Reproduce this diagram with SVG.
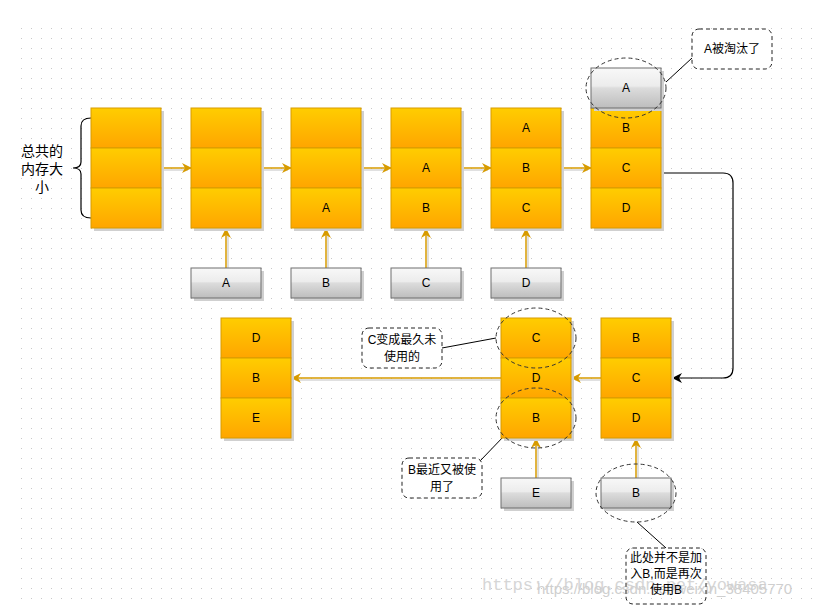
<svg xmlns="http://www.w3.org/2000/svg" width="827" height="608" viewBox="0 0 827 608">
<defs>
<pattern id="dots" x="21" y="28" width="10" height="10" patternUnits="userSpaceOnUse">
<rect x="0" y="0" width="1" height="1" fill="#c8c8c8"/>
</pattern>
<linearGradient id="gold" x1="0" y1="0" x2="0" y2="1">
<stop offset="0" stop-color="#ffcd00"/>
<stop offset="1" stop-color="#ffa500"/>
</linearGradient>
<linearGradient id="gray" x1="0" y1="0" x2="0" y2="1">
<stop offset="0" stop-color="#f8f8f8"/>
<stop offset="0.45" stop-color="#ececec"/>
<stop offset="0.5" stop-color="#dcdcdc"/>
<stop offset="1" stop-color="#bdbdbd"/>
</linearGradient>
<marker id="ag" viewBox="0 0 10 10" refX="9" refY="5" markerWidth="10" markerHeight="10" markerUnits="userSpaceOnUse" orient="auto">
<path d="M0,0 L10,5 L0,10 L3,5 Z" fill="#d79b00"/>
</marker>
<marker id="ab" viewBox="0 0 10 10" refX="9" refY="5" markerWidth="10" markerHeight="10" markerUnits="userSpaceOnUse" orient="auto">
<path d="M0,0 L10,5 L0,10 L3,5 Z" fill="#000"/>
</marker>
</defs>
<style>
text{font-family:"Liberation Sans","Noto Sans CJK SC",sans-serif;font-size:12px;fill:#000;text-anchor:middle;dominant-baseline:central}
.cell{fill:url(#gold);stroke:#d79b00;stroke-width:1}
.shadow{fill:#d0d0d0}
.gbox{fill:url(#gray);stroke:#6e6e6e;stroke-width:1}
.ga{stroke:#d79b00;stroke-width:1.5;fill:none;marker-end:url(#ag)}
.gs{stroke:#d6d6d6;stroke-width:1.5;fill:none}
.ell{fill:none;stroke:#333;stroke-width:1;stroke-dasharray:4 3}
.call{fill:#fff;stroke:#222;stroke-width:1;stroke-dasharray:4 3}
.lead{stroke:#000;stroke-width:1;fill:none}
.wm{font-family:"Liberation Mono",monospace;font-size:17px;fill:#d6d6d6;text-anchor:start;dominant-baseline:auto}
.wm2{font-family:"Liberation Sans",sans-serif;font-size:15px;fill:#cfcfcf;text-anchor:start;dominant-baseline:auto}
</style>
<rect x="0" y="0" width="827" height="608" fill="#fff"/>
<rect x="20" y="27" width="800" height="574" fill="url(#dots)"/>

<g id="label-total">
<path d="M91,118 Q81,118 81,126 L81,162 Q81,168 73,168 Q81,168 81,174 L81,210 Q81,218 91,218" fill="none" stroke="#000" stroke-width="1.2"/>
<text x="42" y="151" style="font-size:14px">总共的</text>
<text x="42" y="169" style="font-size:14px">内存大</text>
<text x="42" y="187" style="font-size:14px">小</text>
</g>

<g id="connectors">
<line class="gs" x1="162" y1="170" x2="188" y2="170"/>
<line class="ga" x1="162" y1="168" x2="191" y2="168"/>
<line class="gs" x1="262" y1="170" x2="288" y2="170"/>
<line class="ga" x1="262" y1="168" x2="291" y2="168"/>
<line class="gs" x1="362" y1="170" x2="388" y2="170"/>
<line class="ga" x1="362" y1="168" x2="391" y2="168"/>
<line class="gs" x1="462" y1="170" x2="488" y2="170"/>
<line class="ga" x1="462" y1="168" x2="491" y2="168"/>
<line class="gs" x1="562" y1="170" x2="588" y2="170"/>
<line class="ga" x1="562" y1="168" x2="591" y2="168"/>

<line class="gs" x1="228" y1="268" x2="228" y2="234"/>
<line class="ga" x1="226" y1="268" x2="226" y2="229"/>
<line class="gs" x1="328" y1="268" x2="328" y2="234"/>
<line class="ga" x1="326" y1="268" x2="326" y2="229"/>
<line class="gs" x1="428" y1="268" x2="428" y2="234"/>
<line class="ga" x1="426" y1="268" x2="426" y2="229"/>
<line class="gs" x1="528" y1="268" x2="528" y2="234"/>
<line class="ga" x1="526" y1="268" x2="526" y2="229"/>

<path d="M661,173 H723 Q733,173 733,183 V368 Q733,378 723,378 H673" fill="none" stroke="#000" stroke-width="1.2" marker-end="url(#ab)"/>

<line class="gs" x1="600" y1="380" x2="575" y2="380"/>
<line class="ga" x1="601" y1="378" x2="572" y2="378"/>
<line class="gs" x1="500" y1="380" x2="295" y2="380"/>
<line class="ga" x1="501" y1="378" x2="292" y2="378"/>

<line class="gs" x1="538" y1="478" x2="538" y2="444"/>
<line class="ga" x1="536" y1="478" x2="536" y2="439"/>
<line class="gs" x1="638" y1="478" x2="638" y2="444"/>
<line class="ga" x1="636" y1="478" x2="636" y2="439"/>

<line class="lead" x1="666" y1="82" x2="692" y2="58"/>
<line class="lead" x1="442" y1="348" x2="496" y2="338"/>
<line class="lead" x1="480" y1="461" x2="505" y2="435"/>
<line class="lead" x1="637" y1="522" x2="666" y2="548"/>
</g>

<g id="stack1">
<rect class="shadow" x="94" y="111" width="70" height="120"/>
<rect class="cell" x="91" y="108" width="70" height="40"/>
<rect class="cell" x="91" y="148" width="70" height="40"/>
<rect class="cell" x="91" y="188" width="70" height="40"/>
</g>
<g id="stack2">
<rect class="shadow" x="194" y="111" width="70" height="120"/>
<rect class="cell" x="191" y="108" width="70" height="40"/>
<rect class="cell" x="191" y="148" width="70" height="40"/>
<rect class="cell" x="191" y="188" width="70" height="40"/>
</g>
<g id="stack3">
<rect class="shadow" x="294" y="111" width="70" height="120"/>
<rect class="cell" x="291" y="108" width="70" height="40"/>
<rect class="cell" x="291" y="148" width="70" height="40"/>
<rect class="cell" x="291" y="188" width="70" height="40"/>
<text x="326" y="208">A</text>
</g>
<g id="stack4">
<rect class="shadow" x="394" y="111" width="70" height="120"/>
<rect class="cell" x="391" y="108" width="70" height="40"/>
<rect class="cell" x="391" y="148" width="70" height="40"/>
<rect class="cell" x="391" y="188" width="70" height="40"/>
<text x="426" y="168">A</text>
<text x="426" y="208">B</text>
</g>
<g id="stack5">
<rect class="shadow" x="494" y="111" width="70" height="120"/>
<rect class="cell" x="491" y="108" width="70" height="40"/>
<rect class="cell" x="491" y="148" width="70" height="40"/>
<rect class="cell" x="491" y="188" width="70" height="40"/>
<text x="526" y="128">A</text>
<text x="526" y="168">B</text>
<text x="526" y="208">C</text>
</g>
<g id="stack6">
<rect class="shadow" x="594" y="111" width="70" height="120"/>
<rect class="cell" x="591" y="108" width="70" height="40"/>
<rect class="cell" x="591" y="148" width="70" height="40"/>
<rect class="cell" x="591" y="188" width="70" height="40"/>
<text x="626" y="128">B</text>
<text x="626" y="168">C</text>
<text x="626" y="208">D</text>
</g>
<g id="evicted-A">
<rect class="shadow" x="594" y="71" width="70" height="40"/>
<rect class="gbox" x="591" y="68" width="70" height="40"/>
<text x="626" y="88">A</text>
<ellipse class="ell" cx="626" cy="88" rx="40" ry="30"/>
</g>

<g id="in-A">
<rect class="shadow" x="194" y="271" width="70" height="30"/>
<rect class="gbox" x="191" y="268" width="70" height="30"/>
<text x="226" y="283">A</text>
</g>
<g id="in-B">
<rect class="shadow" x="294" y="271" width="70" height="30"/>
<rect class="gbox" x="291" y="268" width="70" height="30"/>
<text x="326" y="283">B</text>
</g>
<g id="in-C">
<rect class="shadow" x="394" y="271" width="70" height="30"/>
<rect class="gbox" x="391" y="268" width="70" height="30"/>
<text x="426" y="283">C</text>
</g>
<g id="in-D">
<rect class="shadow" x="494" y="271" width="70" height="30"/>
<rect class="gbox" x="491" y="268" width="70" height="30"/>
<text x="526" y="283">D</text>
</g>

<g id="stack7">
<rect class="shadow" x="604" y="321" width="70" height="120"/>
<rect class="cell" x="601" y="318" width="70" height="40"/>
<rect class="cell" x="601" y="358" width="70" height="40"/>
<rect class="cell" x="601" y="398" width="70" height="40"/>
<text x="636" y="338">B</text>
<text x="636" y="378">C</text>
<text x="636" y="418">D</text>
</g>
<g id="stack8">
<rect class="shadow" x="504" y="321" width="70" height="120"/>
<rect class="cell" x="501" y="318" width="70" height="40"/>
<rect class="cell" x="501" y="358" width="70" height="40"/>
<rect class="cell" x="501" y="398" width="70" height="40"/>
<text x="536" y="338">C</text>
<text x="536" y="378">D</text>
<text x="536" y="418">B</text>
<ellipse class="ell" cx="536" cy="338" rx="40" ry="30"/>
<ellipse class="ell" cx="536" cy="418" rx="40" ry="30"/>
</g>
<g id="stack9">
<rect class="shadow" x="224" y="321" width="70" height="120"/>
<rect class="cell" x="221" y="318" width="70" height="40"/>
<rect class="cell" x="221" y="358" width="70" height="40"/>
<rect class="cell" x="221" y="398" width="70" height="40"/>
<text x="256" y="338">D</text>
<text x="256" y="378">B</text>
<text x="256" y="418">E</text>
</g>
<g id="in-E">
<rect class="shadow" x="504" y="481" width="70" height="30"/>
<rect class="gbox" x="501" y="478" width="70" height="30"/>
<text x="536" y="493">E</text>
</g>
<g id="in-B2">
<rect class="shadow" x="604" y="481" width="70" height="30"/>
<rect class="gbox" x="601" y="478" width="70" height="30"/>
<text x="636" y="493">B</text>
<ellipse class="ell" cx="636" cy="493" rx="40" ry="29"/>
</g>

<g id="note-A">
<rect class="call" x="692" y="29" width="80" height="40" rx="7"/>
<text x="732" y="49">A被淘汰了</text>
</g>
<g id="note-C">
<rect class="call" x="362" y="328" width="80" height="40" rx="7"/>
<text x="402" y="340">C变成最久未</text>
<text x="402" y="357">使用的</text>
</g>
<g id="note-B">
<rect class="call" x="402" y="458" width="80" height="40" rx="7"/>
<text x="442" y="470">B最近又被使</text>
<text x="442" y="487">用了</text>
</g>

<text class="wm" x="482" y="590">https://blog.csdn.net/yowasa</text>
<text class="wm2" x="537" y="594">https://blog.csdn.net/weixin_38405770</text>

<g id="note-B2">
<rect class="call" x="626" y="548" width="80" height="56" rx="7" fill-opacity="0"/>
<text x="666" y="558">此处并不是加</text>
<text x="666" y="574">入B,而是再次</text>
<text x="666" y="590">使用B</text>
</g>
</svg>
